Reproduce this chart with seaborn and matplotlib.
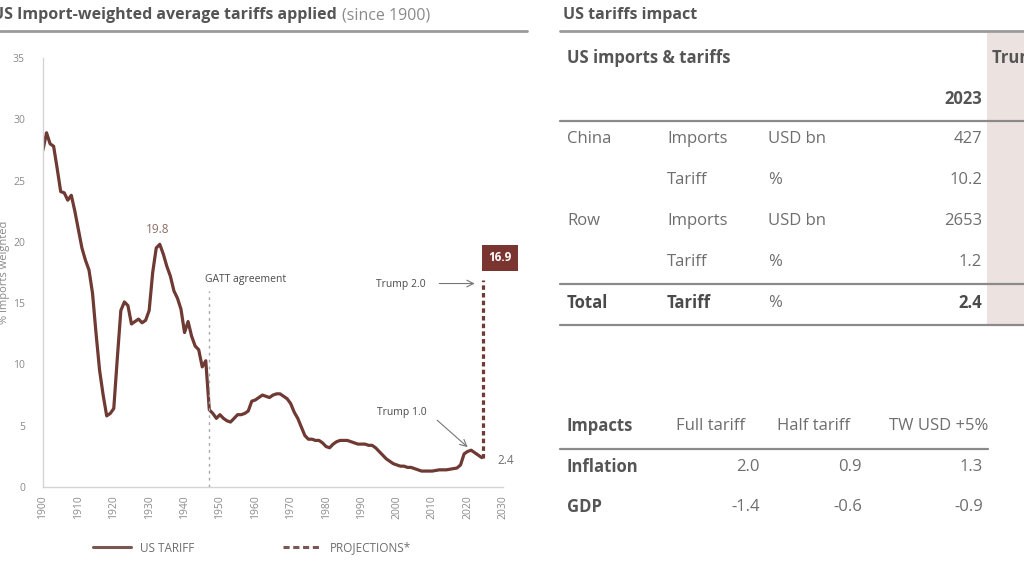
import numpy as np
import pandas as pd
import seaborn as sns
import matplotlib.pyplot as plt
from matplotlib.lines import Line2D
from matplotlib.patches import Rectangle

# ---- data ----
years = list(range(1900, 2025))
tariff = [27.5, 28.9, 28.0, 27.8, 26.0, 24.1, 24.0, 23.4, 23.8, 22.5,
          21.0, 19.5, 18.5, 17.7, 15.8, 12.5, 9.5, 7.5, 5.8, 6.0,
          6.4, 10.5, 14.4, 15.1, 14.8, 13.3, 13.5, 13.7, 13.4, 13.6,
          14.4, 17.5, 19.5, 19.8, 19.0, 18.0, 17.2, 16.0, 15.4, 14.5,
          12.6, 13.5, 12.3, 11.5, 11.2, 9.8, 10.3, 6.3, 6.0, 5.6,
          5.9, 5.6, 5.4, 5.3, 5.6, 5.9, 5.9, 6.0, 6.2, 7.0,
          7.1, 7.3, 7.5, 7.4, 7.3, 7.5, 7.6, 7.6, 7.4, 7.2,
          6.8, 6.1, 5.6, 4.9, 4.2, 3.9, 3.9, 3.8, 3.8, 3.6,
          3.3, 3.2, 3.5, 3.7, 3.8, 3.8, 3.8, 3.7, 3.6, 3.5,
          3.5, 3.5, 3.4, 3.4, 3.2, 2.9, 2.6, 2.3, 2.1, 1.9,
          1.8, 1.7, 1.7, 1.6, 1.6, 1.5, 1.4, 1.3, 1.3, 1.3,
          1.3, 1.35, 1.4, 1.4, 1.4, 1.45, 1.5, 1.55, 1.8, 2.7,
          2.9, 3.0, 2.8, 2.6, 2.4]
proj_years = [2024.3, 2024.3]
proj_vals = [2.4, 16.9]

# US imports & tariffs table
tbl_region = ["China", "", "Row", "", "Total"]
tbl_item = ["Imports", "Tariff", "Imports", "Tariff", "Tariff"]
tbl_unit = ["USD bn", "%", "USD bn", "%", "%"]
tbl_2023 = ["427", "10.2", "2653", "1.2", "2.4"]

# impacts table
imp_cols = ["Full tariff", "Half tariff", "TW USD +5%"]
imp_rows = ["Inflation", "GDP"]
imp_vals = [["2.0", "0.9", "1.3"], ["-1.4", "-0.6", "-0.9"]]

brown = "#6e3a33"
grey_txt = "#6e6e6e"
dark_txt = "#4a4a4a"
FS = 12

sns.set_theme(style="white")
plt.rcParams['font.family'] = ['Open Sans', 'DejaVu Sans']

fig = plt.figure(figsize=(10.24, 5.76), dpi=100)
W, H = 1024, 576

# overlay axes in pixel coords for titles/tables
ov = fig.add_axes([0, 0, 1, 1], zorder=0)
ov.set_xlim(0, W)
ov.set_ylim(H, 0)
ov.axis("off")

# ---- left chart ----
ax = fig.add_axes([43 / W, (H - 487) / H, 460 / W, 429 / H], zorder=2)
ax.patch.set_alpha(0)
df = pd.DataFrame({"year": years, "tariff": tariff})
sns.lineplot(data=df, x="year", y="tariff", ax=ax, color=brown, lw=2.3)
proj = pd.DataFrame({"year": proj_years, "tariff": proj_vals})
sns.lineplot(data=proj, x="year", y="tariff", ax=ax, color=brown, lw=2.3,
             estimator=None, sort=False, linestyle=(0, (1.4, 1.0)))
ax.set_xlim(1900, 2030)
ax.set_ylim(0, 35)
ax.set_xticks(range(1900, 2031, 10))
ax.set_yticks(range(0, 36, 5))
ax.tick_params(axis="x", labelrotation=90, labelsize=7.5, colors="#8a8a8a", length=0, pad=6)
ax.tick_params(axis="y", labelsize=7.5, colors="#8a8a8a", length=3, pad=10)
ax.set_xlabel("")
ax.set_ylabel("% imports weighted", fontsize=8, color="#8a8a8a")
ax.yaxis.set_label_coords(-0.072, 0.5)
for s in ["top", "right"]:
    ax.spines[s].set_visible(False)
for s in ["left", "bottom"]:
    ax.spines[s].set_color("#d4d4d4")
    ax.spines[s].set_linewidth(1)

# annotations
ax.plot([1947, 1947], [0, 16.0], color="#a8a8a8", lw=1, linestyle=(0, (2, 3)))
ax.text(1945.8, 16.9, "GATT agreement", fontsize=7.5, color=dark_txt, va="center", ha="left")
ax.text(1932.5, 21.0, "19.8", fontsize=8.5, color="#8c6b66", ha="center", va="center")
ax.text(2001, 16.5, "Trump 2.0", fontsize=7.5, color=dark_txt, ha="center", va="center")
ax.annotate("", xy=(2022.8, 16.6), xytext=(2011.2, 16.6),
            arrowprops=dict(arrowstyle="->", color="#777777", lw=0.8))
ax.text(2001.5, 6.1, "Trump 1.0", fontsize=7.5, color=dark_txt, ha="center", va="center")
ax.annotate("", xy=(2020.6, 3.1), xytext=(2010.8, 5.6),
            arrowprops=dict(arrowstyle="->", color="#777777", lw=0.8))
ax.text(2028.5, 2.2, "2.4", fontsize=8.5, color=grey_txt, ha="left", va="center", clip_on=False)
ax.text(2029.2, 18.7, "16.9", fontsize=8.5, color="white", fontweight="bold",
        ha="center", va="center", clip_on=False,
        bbox=dict(boxstyle="square,pad=0.55", fc="#7a3530", ec="none"))

handles = [Line2D([0], [0], color="#7b5652", lw=2.2),
           Line2D([0], [0], color="#7b5652", lw=2.2, linestyle=(0, (2, 1.2)))]
fig.legend(handles, ["US TARIFF", "PROJECTIONS*"], loc="center",
           bbox_to_anchor=(252 / W, (H - 548) / H), ncol=2, frameon=False,
           fontsize=8.5, handlelength=3.2, columnspacing=7.5, labelcolor=grey_txt)

# left title
t1 = ov.text(-8, 15, "US Import-weighted average tariffs applied", fontsize=11.5,
             fontweight="bold", color="#555555", va="center", ha="left")
fig.canvas.draw()
bb = t1.get_window_extent()
ov.text(bb.x1 + 5, 15, "(since 1900)", fontsize=11.5, color="#8a8a8a", va="center", ha="left")
ov.plot([0, 527], [31, 31], color="#9a9a9a", lw=2)

# ---- right tables ----
ov.text(563, 15, "US tariffs impact", fontsize=11.5, fontweight="bold", color="#555555",
        va="center", ha="left")
ov.plot([560, W], [31, 31], color="#9a9a9a", lw=2)
ov.add_patch(Rectangle((987, 33), 40, 292, color="#ece3e1", lw=0))
ov.text(567, 58, "US imports & tariffs", fontsize=FS, fontweight="bold", color="#555555",
        va="center", ha="left")
ov.text(992, 58, "Trump 2.0", fontsize=FS, fontweight="bold", color="#555555",
        va="center", ha="left", clip_on=True)
ov.text(982, 99, "2023", fontsize=FS, fontweight="bold", color="#555555",
        va="center", ha="right")
ov.plot([560, W], [121, 121], color="#8a8a8a", lw=1.6)

row_y = [139, 180, 221, 262, 303]
for i, y in enumerate(row_y):
    bold = tbl_region[i] == "Total"
    fw = "bold" if bold else "normal"
    c = dark_txt if bold else grey_txt
    ov.text(567, y, tbl_region[i], fontsize=FS, fontweight=fw, color=c, va="center", ha="left")
    ov.text(667, y, tbl_item[i], fontsize=FS, fontweight=fw, color=c, va="center", ha="left")
    ov.text(768, y, tbl_unit[i], fontsize=FS, color=grey_txt, va="center", ha="left")
    ov.text(982, y, tbl_2023[i], fontsize=FS, fontweight=fw, color=c, va="center", ha="right")
ov.plot([560, W], [284, 284], color="#8a8a8a", lw=1.6)
ov.plot([560, W], [325, 325], color="#8a8a8a", lw=1.6)

ov.text(567, 426, "Impacts", fontsize=FS, fontweight="bold", color="#555555", va="center", ha="left")
col_right = [745, 850, 988]
for x, name in zip(col_right, imp_cols):
    ov.text(x, 426, name, fontsize=FS, color=grey_txt, va="center", ha="right")
ov.plot([560, 988], [449, 449], color="#8a8a8a", lw=1.6)
val_right = [760, 862, 983]
for y, name, vals in zip([467, 507], imp_rows, imp_vals):
    ov.text(567, y, name, fontsize=FS, fontweight="bold", color="#555555", va="center", ha="left")
    for x, v in zip(val_right, vals):
        ov.text(x, y, v, fontsize=FS, color=grey_txt, va="center", ha="right")

fig.savefig("out.png", dpi=100)
